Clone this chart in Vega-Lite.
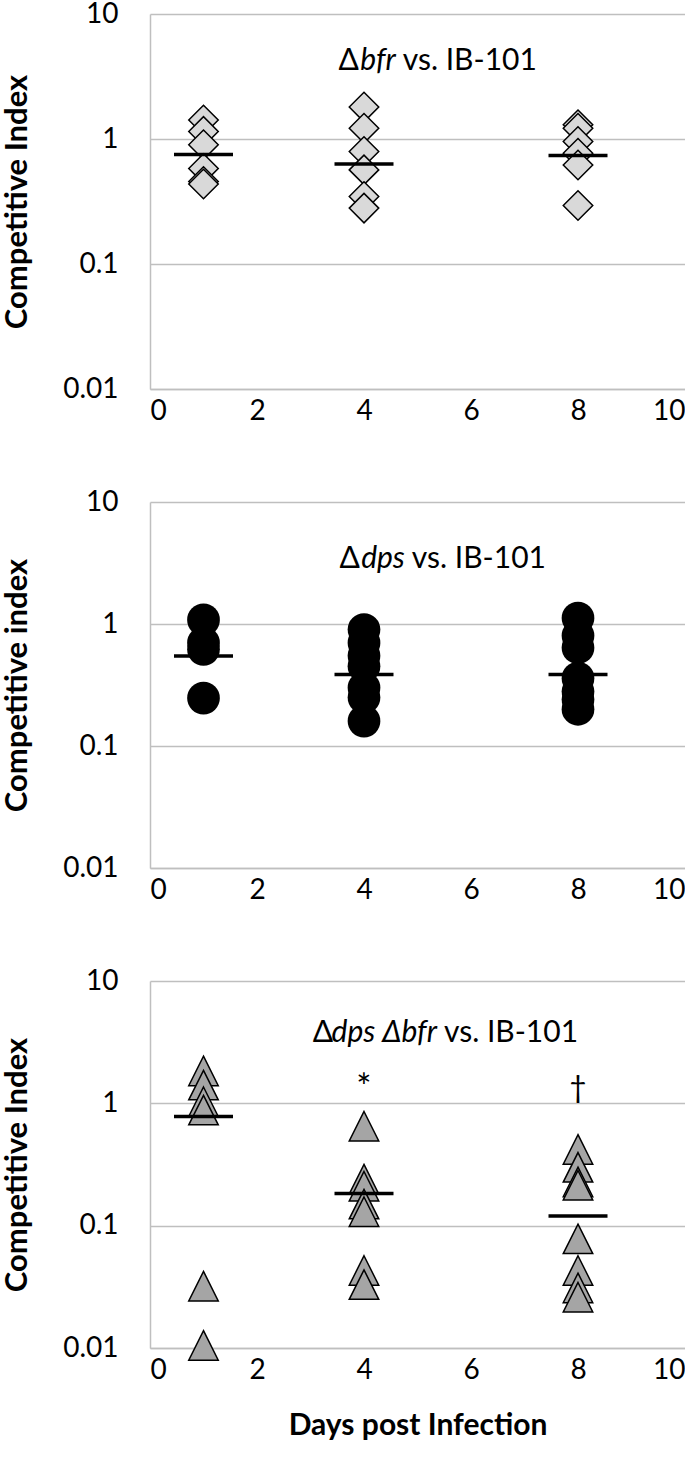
{
  "$schema": "https://vega.github.io/schema/vega-lite/v6.json",
  "background": "white",
  "padding": {"left": 1, "top": 0, "right": 0, "bottom": 0},
  "autosize": {"type": "pad"},
  "spacing": 113,
  "bounds": "flush",
  "config": {
    "font": "Lato",
    "view": {"stroke": null},
    "axis": {
      "labelFont": "Lato", "labelFontSize": 28, "labelColor": "#000",
      "titleFont": "Lato", "titleFontSize": 31, "titleFontWeight": "bold", "titleColor": "#000",
      "ticks": false, "domainColor": "#bfbfbf", "domainWidth": 1.5,
      "gridColor": "#bfbfbf", "gridWidth": 1.5
    }
  },
  "datasets": {
    "pts": [
      {"panel": 1, "day": 1, "ci": 1.42}, {"panel": 1, "day": 1, "ci": 1.15}, {"panel": 1, "day": 1, "ci": 0.90},
      {"panel": 1, "day": 1, "ci": 0.58}, {"panel": 1, "day": 1, "ci": 0.457}, {"panel": 1, "day": 1, "ci": 0.436},
      {"panel": 1, "day": 4, "ci": 1.80}, {"panel": 1, "day": 4, "ci": 1.22}, {"panel": 1, "day": 4, "ci": 0.794},
      {"panel": 1, "day": 4, "ci": 0.566}, {"panel": 1, "day": 4, "ci": 0.347}, {"panel": 1, "day": 4, "ci": 0.28},
      {"panel": 1, "day": 8, "ci": 1.30}, {"panel": 1, "day": 8, "ci": 1.22}, {"panel": 1, "day": 8, "ci": 0.955},
      {"panel": 1, "day": 8, "ci": 0.77}, {"panel": 1, "day": 8, "ci": 0.62}, {"panel": 1, "day": 8, "ci": 0.294},
      {"panel": 2, "day": 1, "ci": 1.08}, {"panel": 2, "day": 1, "ci": 0.70}, {"panel": 2, "day": 1, "ci": 0.62},
      {"panel": 2, "day": 1, "ci": 0.247},
      {"panel": 2, "day": 4, "ci": 0.90}, {"panel": 2, "day": 4, "ci": 0.70}, {"panel": 2, "day": 4, "ci": 0.55},
      {"panel": 2, "day": 4, "ci": 0.45}, {"panel": 2, "day": 4, "ci": 0.30}, {"panel": 2, "day": 4, "ci": 0.25},
      {"panel": 2, "day": 4, "ci": 0.16},
      {"panel": 2, "day": 8, "ci": 1.12}, {"panel": 2, "day": 8, "ci": 0.80}, {"panel": 2, "day": 8, "ci": 0.64},
      {"panel": 2, "day": 8, "ci": 0.36}, {"panel": 2, "day": 8, "ci": 0.28}, {"panel": 2, "day": 8, "ci": 0.24},
      {"panel": 2, "day": 8, "ci": 0.20},
      {"panel": 3, "day": 1, "ci": 1.84}, {"panel": 3, "day": 1, "ci": 1.41}, {"panel": 3, "day": 1, "ci": 1.03},
      {"panel": 3, "day": 1, "ci": 0.88}, {"panel": 3, "day": 1, "ci": 0.032}, {"panel": 3, "day": 1, "ci": 0.0105},
      {"panel": 3, "day": 4, "ci": 0.65}, {"panel": 3, "day": 4, "ci": 0.24}, {"panel": 3, "day": 4, "ci": 0.21},
      {"panel": 3, "day": 4, "ci": 0.15}, {"panel": 3, "day": 4, "ci": 0.13}, {"panel": 3, "day": 4, "ci": 0.043},
      {"panel": 3, "day": 4, "ci": 0.033},
      {"panel": 3, "day": 8, "ci": 0.42}, {"panel": 3, "day": 8, "ci": 0.30}, {"panel": 3, "day": 8, "ci": 0.228},
      {"panel": 3, "day": 8, "ci": 0.214}, {"panel": 3, "day": 8, "ci": 0.078}, {"panel": 3, "day": 8, "ci": 0.043},
      {"panel": 3, "day": 8, "ci": 0.031}, {"panel": 3, "day": 8, "ci": 0.026}
    ],
    "means": [
      {"panel": 1, "day": 1, "ci": 0.75}, {"panel": 1, "day": 4, "ci": 0.63}, {"panel": 1, "day": 8, "ci": 0.738},
      {"panel": 2, "day": 1, "ci": 0.546}, {"panel": 2, "day": 4, "ci": 0.386}, {"panel": 2, "day": 8, "ci": 0.386},
      {"panel": 3, "day": 1, "ci": 0.78}, {"panel": 3, "day": 4, "ci": 0.183}, {"panel": 3, "day": 8, "ci": 0.12}
    ],
    "labels": [
      {"panel": 1, "day": 4.65, "ci": 4.17, "ital": "bfr", "rest": "vs. IB-101"},
      {"panel": 2, "day": 4.82, "ci": 3.39, "ital": "dps", "rest": "vs. IB-101"},
      {"panel": 3, "day": 5.42, "ci": 3.73, "ital": "dps Δbfr", "rest": "vs. IB-101"}
    ],
    "sig": [
      {"panel": 3, "day": 4, "ci": 1.31, "sym": "*", "size": 36},
      {"panel": 3, "day": 8, "ci": 1.32, "sym": "†", "size": 30}
    ]
  },
  "vconcat": [
    {
      "width": 535, "height": 375,
      "layer": [
        {
          "data": {"name": "pts"},
          "transform": [{"filter": "datum.panel == 1"}],
          "mark": {"type": "point", "shape": "diamond", "filled": true, "fill": "#d9d9d9", "stroke": "#000", "strokeWidth": 1.5, "size": 870, "opacity": 1, "fillOpacity": 1, "strokeOpacity": 1},
          "encoding": {
            "x": {"field": "day", "type": "quantitative", "scale": {"domain": [0, 10], "nice": false}, "axis": {"title": null, "values": [0, 2, 4, 6, 8, 10], "grid": false, "labelPadding": 8}},
            "y": {"field": "ci", "type": "quantitative", "scale": {"type": "log", "domain": [0.01, 10], "nice": false}, "axis": {"title": "Competitive Index", "values": [0.01, 0.1, 1, 10], "format": "~g", "grid": true, "labelPadding": 32, "titlePadding": 29}}
          }
        },
        {
          "data": {"name": "means"},
          "transform": [{"filter": "datum.panel == 1"}],
          "mark": {"type": "tick", "orient": "horizontal", "size": 59, "thickness": 3.5, "color": "#000", "opacity": 1},
          "encoding": {"x": {"field": "day", "type": "quantitative"}, "y": {"field": "ci", "type": "quantitative"}}
        },
        {
          "data": {"name": "labels"},
          "transform": [{"filter": "datum.panel == 1"}],
          "mark": {"type": "text", "fontStyle": "italic", "fontSize": 30, "align": "right", "baseline": "middle", "dx": -3, "color": "#000"},
          "encoding": {"x": {"field": "day", "type": "quantitative"}, "y": {"field": "ci", "type": "quantitative"}, "text": {"field": "ital"}}
        },
        {
          "data": {"name": "labels"},
          "transform": [{"filter": "datum.panel == 1"}],
          "mark": {"type": "text", "fontSize": 30, "align": "right", "baseline": "middle", "dx": -40, "color": "#000"},
          "encoding": {"x": {"field": "day", "type": "quantitative"}, "y": {"field": "ci", "type": "quantitative"}, "text": {"value": "Δ"}}
        },
        {
          "data": {"name": "labels"},
          "transform": [{"filter": "datum.panel == 1"}],
          "mark": {"type": "text", "fontSize": 30, "align": "left", "baseline": "middle", "dx": 4, "color": "#000"},
          "encoding": {"x": {"field": "day", "type": "quantitative"}, "y": {"field": "ci", "type": "quantitative"}, "text": {"field": "rest"}}
        }
      ]
    },
    {
      "width": 535, "height": 366,
      "layer": [
        {
          "data": {"name": "pts"},
          "transform": [{"filter": "datum.panel == 2"}],
          "mark": {"type": "point", "shape": "circle", "filled": true, "fill": "#000", "strokeWidth": 0, "size": 1070, "opacity": 1, "fillOpacity": 1},
          "encoding": {
            "x": {"field": "day", "type": "quantitative", "scale": {"domain": [0, 10], "nice": false}, "axis": {"title": null, "values": [0, 2, 4, 6, 8, 10], "grid": false, "labelPadding": 8}},
            "y": {"field": "ci", "type": "quantitative", "scale": {"type": "log", "domain": [0.01, 10], "nice": false}, "axis": {"title": "Competitive index", "values": [0.01, 0.1, 1, 10], "format": "~g", "grid": true, "labelPadding": 32, "titlePadding": 29}}
          }
        },
        {
          "data": {"name": "means"},
          "transform": [{"filter": "datum.panel == 2"}],
          "mark": {"type": "tick", "orient": "horizontal", "size": 59, "thickness": 3.5, "color": "#000", "opacity": 1},
          "encoding": {"x": {"field": "day", "type": "quantitative"}, "y": {"field": "ci", "type": "quantitative"}}
        },
        {
          "data": {"name": "labels"},
          "transform": [{"filter": "datum.panel == 2"}],
          "mark": {"type": "text", "fontStyle": "italic", "fontSize": 30, "align": "right", "baseline": "middle", "dx": -3, "color": "#000"},
          "encoding": {"x": {"field": "day", "type": "quantitative"}, "y": {"field": "ci", "type": "quantitative"}, "text": {"field": "ital"}}
        },
        {
          "data": {"name": "labels"},
          "transform": [{"filter": "datum.panel == 2"}],
          "mark": {"type": "text", "fontSize": 30, "align": "right", "baseline": "middle", "dx": -48, "color": "#000"},
          "encoding": {"x": {"field": "day", "type": "quantitative"}, "y": {"field": "ci", "type": "quantitative"}, "text": {"value": "Δ"}}
        },
        {
          "data": {"name": "labels"},
          "transform": [{"filter": "datum.panel == 2"}],
          "mark": {"type": "text", "fontSize": 30, "align": "left", "baseline": "middle", "dx": 4, "color": "#000"},
          "encoding": {"x": {"field": "day", "type": "quantitative"}, "y": {"field": "ci", "type": "quantitative"}, "text": {"field": "rest"}}
        }
      ]
    },
    {
      "width": 535, "height": 367,
      "layer": [
        {
          "data": {"name": "pts"},
          "transform": [{"filter": "datum.panel == 3"}],
          "mark": {"type": "point", "shape": "M0,-1L1,1L-1,1Z", "filled": true, "fill": "#a5a5a5", "stroke": "#000", "strokeWidth": 1.5, "size": 870, "opacity": 1, "fillOpacity": 1, "strokeOpacity": 1},
          "encoding": {
            "x": {"field": "day", "type": "quantitative", "scale": {"domain": [0, 10], "nice": false}, "axis": {"title": "Days post Infection", "values": [0, 2, 4, 6, 8, 10], "grid": false, "labelPadding": 8, "titlePadding": 26, "titleFontSize": 30}},
            "y": {"field": "ci", "type": "quantitative", "scale": {"type": "log", "domain": [0.01, 10], "nice": false}, "axis": {"title": "Competitive Index", "values": [0.01, 0.1, 1, 10], "format": "~g", "grid": true, "labelPadding": 32, "titlePadding": 29}}
          }
        },
        {
          "data": {"name": "means"},
          "transform": [{"filter": "datum.panel == 3"}],
          "mark": {"type": "tick", "orient": "horizontal", "size": 59, "thickness": 3.5, "color": "#000", "opacity": 1},
          "encoding": {"x": {"field": "day", "type": "quantitative"}, "y": {"field": "ci", "type": "quantitative"}}
        },
        {
          "data": {"name": "labels"},
          "transform": [{"filter": "datum.panel == 3"}],
          "mark": {"type": "text", "fontStyle": "italic", "fontSize": 30, "align": "right", "baseline": "middle", "dx": -3, "color": "#000"},
          "encoding": {"x": {"field": "day", "type": "quantitative"}, "y": {"field": "ci", "type": "quantitative"}, "text": {"field": "ital"}}
        },
        {
          "data": {"name": "labels"},
          "transform": [{"filter": "datum.panel == 3"}],
          "mark": {"type": "text", "fontSize": 30, "align": "right", "baseline": "middle", "dx": -107, "color": "#000"},
          "encoding": {"x": {"field": "day", "type": "quantitative"}, "y": {"field": "ci", "type": "quantitative"}, "text": {"value": "Δ"}}
        },
        {
          "data": {"name": "labels"},
          "transform": [{"filter": "datum.panel == 3"}],
          "mark": {"type": "text", "fontSize": 30, "align": "left", "baseline": "middle", "dx": 4, "color": "#000"},
          "encoding": {"x": {"field": "day", "type": "quantitative"}, "y": {"field": "ci", "type": "quantitative"}, "text": {"field": "rest"}}
        },
        {
          "data": {"name": "sig"},
          "mark": {"type": "text", "align": "center", "baseline": "middle", "color": "#000"},
          "encoding": {"x": {"field": "day", "type": "quantitative"}, "y": {"field": "ci", "type": "quantitative"}, "text": {"field": "sym"}, "size": {"field": "size", "type": "quantitative", "scale": null, "legend": null}}
        }
      ]
    }
  ]
}
